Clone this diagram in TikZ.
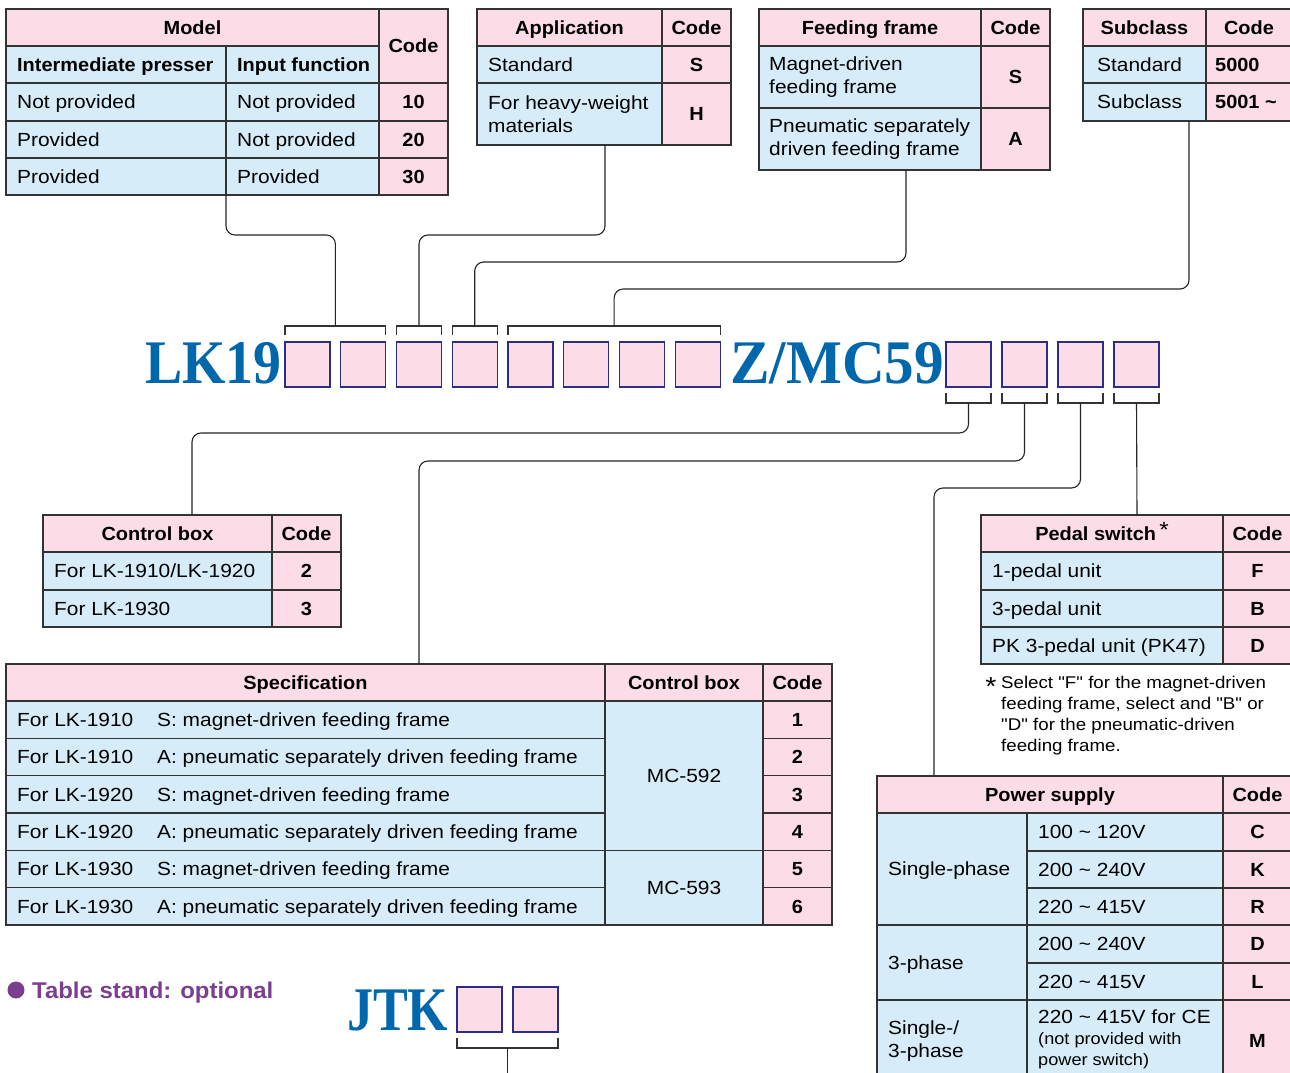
\documentclass[tikz,border=0pt]{standalone}
\usepackage{fontspec}
\setmainfont{Liberation Sans}[Ligatures=TeXOff,UprightFeatures={FakeStretch=1.1},BoldFeatures={FakeStretch=1.05}]
\newfontfamily\bigserif{Liberation Serif}
\usetikzlibrary{calc}
\definecolor{cpink}{HTML}{FCDDE7}
\definecolor{cblue}{HTML}{D6ECF8}
\definecolor{cline}{HTML}{333333}
\definecolor{cbrand}{HTML}{0067AC}
\definecolor{cnavy}{HTML}{2B2E83}
\definecolor{cpurple}{HTML}{7B3F8E}
\newcommand\tcell[8][]{%
  \node[cellbox, fill=#7, minimum width=#5, minimum height=#6] (#2) at ({#3+#5/2},{#4+#6/2}) {};
  \node[txt, anchor=west, #1] (#2t) at ([xshift=11pt]#2.west) {#8};}
\newcommand\ccell[8][]{%
  \node[cellbox, fill=#7, minimum width=#5, minimum height=#6] (#2) at ({#3+#5/2},{#4+#6/2}) {};
  \node[txt, #1] (#2t) at (#2.center) {#8};}
\newcommand\mcell[8][]{%
  \node[cellbox, fill=#7, minimum width=#5, minimum height=#6] (#2) at ({#3+#5/2},{#4+#6/2}) {};
  \node[txtm, anchor=west, #1] (#2t) at ([xshift=11pt]#2.west) {#8};}
\newcommand\spk[2]{\makebox[140pt][l]{#1}#2}
\newcommand\tl{\textasciitilde}
\begin{document}
\begin{tikzpicture}[x=1pt,y=-1pt,
  cellbox/.style={draw=cline, line width=1.2pt, inner sep=0pt, outer sep=0pt},
  txt/.style={font=\fontsize{19}{23.5}\selectfont, inner sep=0pt, text height=13.6pt, text depth=0pt},
  txtm/.style={font=\fontsize{19}{23.5}\selectfont, inner sep=0pt, align=left},
  bold/.style={font=\fontsize{19}{23.5}\selectfont\bfseries},
  codebox/.style={draw=cnavy, fill=cpink, line width=1.4pt, minimum width=45pt, minimum height=45pt, inner sep=0pt, outer sep=0pt},
  conn/.style={draw=black!85, line width=1.1pt, rounded corners=9pt},
  brk/.style={draw=black!80, line width=1.3pt},
  big/.style={font=\bigserif\bfseries\fontsize{62}{62}\selectfont, text=cbrand, inner sep=0pt, anchor=base west}]
\clip (0,0) rectangle (1290,1073);
\fill[white] (0,0) rectangle (1290,1073);

% ---------- Model table
\ccell[bold]{mh}{6}{9}{373}{37}{cpink}{Model}
\ccell[bold]{mc}{379}{9}{69}{74}{cpink}{Code}
\tcell[bold]{ms1}{6}{46}{220}{37}{cblue}{Intermediate presser}
\tcell[bold]{ms2}{226}{46}{153}{37}{cblue}{Input function}
\tcell{m11}{6}{83}{220}{38}{cblue}{Not provided}
\tcell{m12}{226}{83}{153}{38}{cblue}{Not provided}
\ccell[bold]{m13}{379}{83}{69}{38}{cpink}{10}
\tcell{m21}{6}{121}{220}{37}{cblue}{Provided}
\tcell{m22}{226}{121}{153}{37}{cblue}{Not provided}
\ccell[bold]{m23}{379}{121}{69}{37}{cpink}{20}
\tcell{m31}{6}{158}{220}{37}{cblue}{Provided}
\tcell{m32}{226}{158}{153}{37}{cblue}{Provided}
\ccell[bold]{m33}{379}{158}{69}{37}{cpink}{30}

% ---------- Application table
\ccell[bold]{ah}{477}{9}{185}{37}{cpink}{Application}
\ccell[bold]{ahk}{662}{9}{69}{37}{cpink}{Code}
\tcell{a1}{477}{46}{185}{37}{cblue}{Standard}
\ccell[bold]{a1k}{662}{46}{69}{37}{cpink}{S}
\mcell{a2}{477}{83}{185}{62}{cblue}{For heavy-weight\\materials}
\ccell[bold]{a2k}{662}{83}{69}{62}{cpink}{H}

% ---------- Feeding frame table
\ccell[bold]{fh}{759}{9}{222}{37}{cpink}{Feeding frame}
\ccell[bold]{fhk}{981}{9}{69}{37}{cpink}{Code}
\mcell[xshift=-1pt]{f1}{759}{46}{222}{62}{cblue}{Magnet-driven\\feeding frame}
\ccell[bold]{f1k}{981}{46}{69}{62}{cpink}{S}
\mcell[xshift=-1pt]{f2}{759}{108}{222}{62}{cblue}{Pneumatic separately\\driven feeding frame}
\ccell[bold]{f2k}{981}{108}{69}{62}{cpink}{A}

% ---------- Subclass table
\ccell[bold]{sh}{1083}{9}{123}{37}{cpink}{Subclass}
\ccell[bold]{shk}{1206}{9}{86}{37}{cpink}{Code}
\tcell[xshift=3pt]{s1}{1083}{46}{123}{37}{cblue}{Standard}
\tcell[bold,xshift=-2pt]{s1k}{1206}{46}{86}{37}{cpink}{5000}
\tcell[xshift=3pt]{s2}{1083}{83}{123}{38}{cblue}{Subclass}
\tcell[bold,xshift=-2pt]{s2k}{1206}{83}{86}{38}{cpink}{5001 \tl}

% ---------- model code
\node[big] (lk) at (145,383) {\scalebox{0.9}[1]{LK19}};
\foreach \i in {1,...,8} {\node[codebox] (b\i) at ({307.5+(\i-1)*55.75},364.5) {};}
\node[big] (zmc) at (730,383) {\scalebox{0.955}[1]{Z/MC59}};
\foreach \i in {1,...,4} {\node[codebox] (r\i) at ({968.5+(\i-1)*56},364.5) {};}

% brackets above
\draw[brk] ([yshift=7pt]b1.north west) |- ([yshift=16pt]b2.north east) -- ([yshift=7pt]b2.north east);
\draw[brk] ([yshift=7pt]b3.north west) |- ([yshift=16pt]b3.north east) -- ([yshift=7pt]b3.north east);
\draw[brk] ([yshift=7pt]b4.north west) |- ([yshift=16pt]b4.north east) -- ([yshift=7pt]b4.north east);
\draw[brk] ([yshift=7pt]b5.north west) |- ([yshift=16pt]b8.north east) -- ([yshift=7pt]b8.north east);
\coordinate (tb1) at ($(b1.north west)!.5!(b2.north east)+(0,-16)$);
\coordinate (tb2) at ([yshift=16pt]b3.north);
\coordinate (tb3) at ([yshift=16pt]b4.north);
\coordinate (tb4) at ($(b5.north west)!.5!(b8.north east)+(0,-16)$);
% brackets below
\foreach \i in {1,...,4} {
  \draw[brk] ([yshift=-6pt]r\i.south west) |- ([yshift=-16pt]r\i.south east) -- ([yshift=-6pt]r\i.south east);
  \coordinate (bb\i) at ([yshift=-16pt]r\i.south);
}

% connectors from the upper tables
\draw[conn] (m31.south east) -- ++(0,40) -| (tb1);
\draw[conn] ([xshift=35.5pt]a2.south) -- ++(0,90) -| (tb2);
\draw[conn] ([xshift=36pt]f2.south) -- ++(0,92) -| (tb3);
\draw[conn] ([xshift=44.5pt]s2.south) -- ++(0,168) -| (tb4);

% ---------- Control box table
\ccell[bold]{cbh}{43}{515}{229}{37}{cpink}{Control box}
\ccell[bold]{cbk}{272}{515}{69}{37}{cpink}{Code}
\tcell{cb1}{43}{552}{229}{38}{cblue}{For LK-1910/LK-1920}
\ccell[bold]{cb1k}{272}{552}{69}{38}{cpink}{2}
\tcell{cb2}{43}{590}{229}{37}{cblue}{For LK-1930}
\ccell[bold]{cb2k}{272}{590}{69}{37}{cpink}{3}

% ---------- Pedal switch table
\ccell[bold]{pdh}{981}{515}{242}{37}{cpink}{Pedal switch\,\raisebox{2.6pt}{\mdseries\fontsize{22}{22}\selectfont *}}
\ccell[bold]{pdk}{1223}{515}{69}{37}{cpink}{Code}
\tcell{pd1}{981}{552}{242}{38}{cblue}{1-pedal unit}
\ccell[bold]{pd1k}{1223}{552}{69}{38}{cpink}{F}
\tcell{pd2}{981}{590}{242}{37}{cblue}{3-pedal unit}
\ccell[bold]{pd2k}{1223}{590}{69}{37}{cpink}{B}
\tcell{pd3}{981}{627}{242}{37}{cblue}{PK 3-pedal unit (PK47)}
\ccell[bold]{pd3k}{1223}{627}{69}{37}{cpink}{D}
\node[txtm, font=\fontsize{26}{26}\selectfont, anchor=base] (notestar) at (991,695) {*};
\node[txtm, font=\fontsize{17}{21}\selectfont, anchor=north west] (note) at (1001,675.5)
  {Select "F" for the magnet-driven\\feeding frame, select and "B" or\\"D" for the pneumatic-driven\\feeding frame.};

% ---------- Specification table
\ccell[bold]{sph}{6}{664}{599}{37}{cpink}{Specification}
\ccell[bold]{spc}{605}{664}{158}{37}{cpink}{Control box}
\ccell[bold]{spk}{763}{664}{69}{37}{cpink}{Code}
\tcell{sp1}{6}{701}{599}{37.33}{cblue}{\spk{For LK-1910}{S: magnet-driven feeding frame}}
\tcell{sp2}{6}{738.33}{599}{37.33}{cblue}{\spk{For LK-1910}{A: pneumatic separately driven feeding frame}}
\tcell{sp3}{6}{775.67}{599}{37.33}{cblue}{\spk{For LK-1920}{S: magnet-driven feeding frame}}
\tcell{sp4}{6}{813}{599}{37.33}{cblue}{\spk{For LK-1920}{A: pneumatic separately driven feeding frame}}
\tcell{sp5}{6}{850.33}{599}{37.33}{cblue}{\spk{For LK-1930}{S: magnet-driven feeding frame}}
\tcell{sp6}{6}{887.67}{599}{37.33}{cblue}{\spk{For LK-1930}{A: pneumatic separately driven feeding frame}}
\ccell{mc2}{605}{701}{158}{149.33}{cblue}{MC-592}
\ccell{mc3}{605}{850.33}{158}{74.67}{cblue}{MC-593}
\ccell[bold]{spk1}{763}{701}{69}{37.33}{cpink}{1}
\ccell[bold]{spk2}{763}{738.33}{69}{37.33}{cpink}{2}
\ccell[bold]{spk3}{763}{775.67}{69}{37.33}{cpink}{3}
\ccell[bold]{spk4}{763}{813}{69}{37.33}{cpink}{4}
\ccell[bold]{spk5}{763}{850.33}{69}{37.33}{cpink}{5}
\ccell[bold]{spk6}{763}{887.67}{69}{37.33}{cpink}{6}

% ---------- Power supply table
\ccell[bold]{pwh}{877}{776}{346}{37}{cpink}{Power supply}
\ccell[bold]{pwk}{1223}{776}{69}{37}{cpink}{Code}
\tcell{pwa}{877}{813}{150}{112}{cblue}{Single-phase}
\tcell{pwb}{877}{925}{150}{75}{cblue}{3-phase}
\mcell{pwc}{877}{1000}{150}{82}{cblue}{Single-/\\3-phase}
\tcell{pw1}{1027}{813}{196}{38}{cblue}{100 \tl{} 120V}
\ccell[bold]{pw1k}{1223}{813}{69}{38}{cpink}{C}
\tcell{pw2}{1027}{851}{196}{37}{cblue}{200 \tl{} 240V}
\ccell[bold]{pw2k}{1223}{851}{69}{37}{cpink}{K}
\tcell{pw3}{1027}{888}{196}{37}{cblue}{220 \tl{} 415V}
\ccell[bold]{pw3k}{1223}{888}{69}{37}{cpink}{R}
\tcell{pw4}{1027}{925}{196}{38}{cblue}{200 \tl{} 240V}
\ccell[bold]{pw4k}{1223}{925}{69}{38}{cpink}{D}
\tcell{pw5}{1027}{963}{196}{37}{cblue}{220 \tl{} 415V}
\ccell[bold]{pw5k}{1223}{963}{69}{37}{cpink}{L}
\node[cellbox, fill=cblue, minimum width=196, minimum height=82] (pw6) at (1125,1041) {};
\node[txtm, anchor=base west] (pw6a) at (1038,1023.8) {220 \tl{} 415V for CE};
\node[txtm, font=\fontsize{16.5}{21}\selectfont, anchor=base west] (pw6b) at (1038,1044.9) {(not provided with};
\node[txtm, font=\fontsize{16.5}{21}\selectfont, anchor=base west] (pw6c) at (1038,1065.9) {power switch)};
\ccell[bold]{pw6k}{1223}{1000}{69}{82}{cpink}{M}

% connectors to the lower tables
\draw[conn] (bb1) -- ++(0,30) -| ([xshift=34.5pt]cbh.north);
\draw[conn] (bb2) -- ++(0,58) -| ([xshift=113.5pt]sph.north);
\draw[conn] (bb3) -- ++(0,85) -| ([xshift=-116pt]pwh.north);
\draw[conn] (bb4) -- ([xshift=35pt]pdh.north);

% ---------- Table stand
\node[circle, fill=cpurple, minimum size=17pt, inner sep=0pt] (bullet) at (16,990) {};
\node[font=\fontsize{22.8}{26}\selectfont\bfseries, text=cpurple, inner sep=0pt, anchor=west, text height=16.2pt, text depth=0pt] (stand) at (32,990) {Table stand: optional};
\node[big] (jtk) at (347,1030) {\scalebox{0.84}[1]{JTK}};
\node[codebox] (j1) at (479.5,1009.5) {};
\node[codebox] (j2) at (535.5,1009.5) {};
\draw[brk] ([yshift=-6pt]j1.south west) |- ([yshift=-16pt]j2.south east) -- ([yshift=-6pt]j2.south east);
\coordinate (jb) at ($(j1.south west)!.5!(j2.south east)+(0,16)$);
\coordinate (jend) at ($(jb)+(0,40)$);
\draw[conn] (jb) -- (jend);
\end{tikzpicture}
\end{document}
